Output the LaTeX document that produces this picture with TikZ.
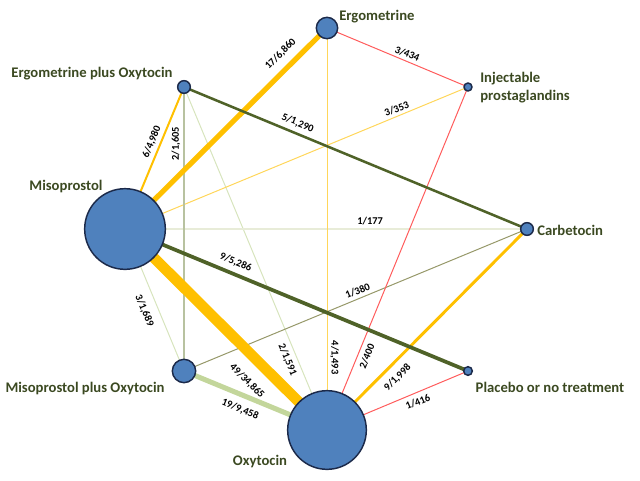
\documentclass[tikz,border=0pt]{standalone}
\usepackage{fontspec}
\setmainfont{Carlito}
\usetikzlibrary{backgrounds}
\definecolor{nodeBlue}{RGB}{79,129,189}
\definecolor{nodeRim}{RGB}{28,42,74}
\definecolor{txtOlive}{RGB}{59,73,33}
\definecolor{linkGold}{RGB}{255,192,0}
\definecolor{linkYellow}{RGB}{255,214,90}
\definecolor{linkRed}{RGB}{255,92,92}
\definecolor{linkOlive}{RGB}{79,98,40}
\definecolor{linkSage}{RGB}{184,194,160}
\definecolor{linkGreen}{RGB}{195,214,155}
\definecolor{linkPale}{RGB}{232,236,216}
\definecolor{linkMist}{RGB}{215,228,189}
\definecolor{linkDrab}{RGB}{150,152,105}
\tikzset{
  trt/.style={circle, draw=nodeRim, line width=1.1pt, fill=nodeBlue, inner sep=0pt, minimum size=#1},
  tname/.style={font=\fontsize{11}{13.5}\selectfont\bfseries, text=txtOlive, inner sep=0pt},
  elabel/.style={font=\fontsize{7.8}{9}\selectfont\bfseries, text=black, sloped, inner sep=2pt},
  thin link/.style={line width=0.75pt}
}

\begin{document}
\begin{tikzpicture}[x=0.75pt,y=-0.75pt]
  \useasboundingbox (0,0) rectangle (640,480);
  \node[trt=16pt] (ergo) at (327,28) {};
  \node[trt=6pt] (inj) at (468,87) {};
  \node[trt=9.5pt] (ergooxy) at (184,87) {};
  \node[trt=60.5pt] (miso) at (125,229) {};
  \node[trt=9.5pt] (carb) at (527,229) {};
  \node[trt=17.5pt] (misooxy) at (184,371) {};
  \node[trt=6.5pt] (placebo) at (468,371) {};
  \node[trt=59pt] (oxy) at (327,430) {};

  \node[tname, anchor=west] (ergoT) at (339,17) {Ergometrine};
  \node[tname, anchor=west, align=left] (injT) at (480,88) {Injectable\\prostaglandins};
  \node[tname] (ergooxyT) at (92,74) {Ergometrine plus Oxytocin};
  \node[tname] (misoT) at (66,186) {Misoprostol};
  \node[tname, anchor=west] (carbT) at (537,230) {Carbetocin};
  \node[tname] (misooxyT) at (85,388) {Misoprostol plus Oxytocin};
  \node[tname] (placeboT) at (550,387) {Placebo or no treatment};
  \node[tname] (oxyT) at (260,461) {Oxytocin};

  \begin{scope}[on background layer]
    \draw[thin link, linkMist] (ergooxy.center) -- node[elabel, pos=0.785, below=1.5pt] {2/1,591} (oxy.center);
    \draw[thin link, linkMist] (miso.center) -- node[elabel, pos=0.54, below=4.5pt] {3/1,689} (misooxy.center);
    \draw[line width=1.5pt, linkPale] (miso.center) -- node[elabel, pos=0.61, above=0pt] {1/177} (carb.center);
    \draw[thin link, linkDrab] (misooxy.center) -- node[elabel, pos=0.515, above=0.5pt] {1/380} (carb.center);
    \draw[thin link, linkYellow] (miso.center) -- node[elabel, pos=0.80, above=0pt] {3/353} (inj.center);
    \draw[thin link, linkYellow] (ergo.center) -- node[elabel, pos=0.82, above=0pt] {4/1,493} (oxy.center);
    \draw[thin link, linkRed] (ergo.center) -- node[elabel, pos=0.55, above=0pt] {3/434} (inj.center);
    \draw[thin link, linkRed] (oxy.center) -- node[elabel, pos=0.224, below=1.5pt] {2/400} (inj.center);
    \draw[thin link, linkRed] (oxy.center) -- node[elabel, pos=0.62, below=1.5pt] {1/416} (placebo.center);
    \draw[line width=1.5pt, linkSage] (misooxy.center) -- node[elabel, pos=0.80, above=0pt] {2/1,605} (ergooxy.center);
    \draw[line width=3.8pt, linkGreen] (misooxy.center) -- node[elabel, pos=0.43, below=3.5pt] {19/9,458} (oxy.center);
    \draw[line width=1.5pt, linkGold] (miso.center) -- node[elabel, pos=0.59, above=0.5pt] {6/4,980} (ergooxy.center);
    \draw[line width=2.2pt, linkGold] (oxy.center) -- node[elabel, pos=0.306, below=3.5pt] {9/1,998} (carb.center);
    \draw[line width=3.9pt, linkGold] (miso.center) -- node[elabel, pos=0.82, above=3.5pt] {17/6,860} (ergo.center);
    \draw[line width=8pt, linkGold] (miso.center) -- node[elabel, pos=0.68, below=7pt] {49/34,865} (oxy.center);
    \draw[line width=1.9pt, linkOlive] (ergooxy.center) -- node[elabel, pos=0.32, above=1.5pt] {5/1,290} (carb.center);
    \draw[line width=2.8pt, linkOlive] (miso.center) -- node[elabel, pos=0.31, above=2pt] {9/5,286} (placebo.center);
  \end{scope}
\end{tikzpicture}
\end{document}
